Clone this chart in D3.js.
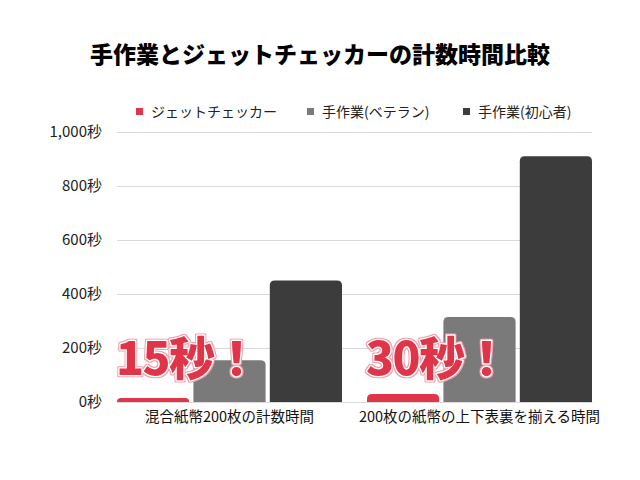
<!DOCTYPE html>
<html>
<head>
<meta charset="utf-8">
<script src="https://cdn.jsdelivr.net/npm/d3@7"></script>
<style>
  html, body { margin: 0; padding: 0; background: #fff; }
  svg { display: block; font-family: "Noto Sans CJK JP", "Noto Sans", sans-serif; }
</style>
</head>
<body>
<svg id="chart" width="640" height="480"></svg>
<script>
const categories = ["混合紙幣200枚の計数時間", "200枚の紙幣の上下表裏を揃える時間"];
const seriesNames = ["ジェットチェッカー", "手作業(ベテラン)", "手作業(初心者)"];
const jetChecker = [15, 30];
const veteran = [155, 315];
const beginner = [450, 910];
const yTicks = [0, 200, 400, 600, 800, 1000];
const annotations = ["15秒！", "30秒！"];
const title = "手作業とジェットチェッカーの計数時間比較";

const colors = ["#e0364a", "#7a7a7a", "#3c3c3c"];
const seriesValues = [jetChecker, veteran, beginner];

const svg = d3.select("#chart");
const margin = { left: 117, right: 48, top: 132, bottom: 78 };
const W = 640, H = 480;

// outline filter for annotations (pink outer edge)
const defs = svg.append("defs");
const f = defs.append("filter").attr("id", "outline").attr("x", "-10%").attr("y", "-20%").attr("width", "120%").attr("height", "140%");
f.append("feMorphology").attr("in", "SourceAlpha").attr("operator", "dilate").attr("radius", 1.3).attr("result", "d");
f.append("feFlood").attr("flood-color", "#ef9fab").attr("result", "c");
f.append("feComposite").attr("in", "c").attr("in2", "d").attr("operator", "in").attr("result", "o");
const fm = f.append("feMerge");
fm.append("feMergeNode").attr("in", "o");
fm.append("feMergeNode").attr("in", "SourceGraphic");

const x0 = d3.scaleBand().domain(categories).range([margin.left, W - margin.right]).paddingInner(0.1).paddingOuter(0);
const x1 = d3.scaleBand().domain(seriesNames).range([0, x0.bandwidth()]).paddingInner(0.055);
const y = d3.scaleLinear().domain([0, 1000]).range([H - margin.bottom, margin.top]);

// title
svg.append("text").attr("x", 320).attr("y", 63).attr("text-anchor", "middle")
  .attr("font-size", 23).attr("font-weight", 900).attr("fill", "#000").text(title);

// legend
const legendX = [136, 307, 463];
seriesNames.forEach((s, i) => {
  const g = svg.append("g").attr("transform", `translate(${legendX[i]},108)`);
  g.append("rect").attr("width", 7).attr("height", 7).attr("fill", colors[i]);
  g.append("text").attr("x", 15).attr("y", 8.5).attr("font-size", 14).attr("fill", "#222").text(s);
});

// grid
const yAxis = d3.axisLeft(y).tickValues(yTicks).tickSize(-(W - margin.left - margin.right))
  .tickFormat(d => d3.format(",")(d) + "秒").tickPadding(15);
const ga = svg.append("g").attr("transform", `translate(${margin.left},0)`).call(yAxis);
ga.select(".domain").remove();
ga.selectAll(".tick line").attr("stroke", "#d9d9d9").attr("stroke-width", 1);
ga.selectAll(".tick text").attr("font-size", 15).attr("fill", "#222")
  .attr("font-family", "'Noto Sans CJK JP', sans-serif");

// bars with rounded top corners
function topRounded(x, yTop, w, h, r) {
  r = Math.min(r, h, w / 2);
  return `M${x},${yTop + h}V${yTop + r}Q${x},${yTop} ${x + r},${yTop}H${x + w - r}Q${x + w},${yTop} ${x + w},${yTop + r}V${yTop + h}Z`;
}
categories.forEach((c, ci) => {
  seriesNames.forEach((s, si) => {
    const v = seriesValues[si][ci];
    const bx = x0(c) + x1(s), bw = x1.bandwidth();
    const yt = y(v), h = y(0) - yt;
    svg.append("path").attr("d", topRounded(bx, yt, bw, h, 5)).attr("fill", colors[si]);
  });
});

// category labels
const xAxis = d3.axisBottom(x0).tickSize(0).tickPadding(10);
const gx = svg.append("g").attr("transform", `translate(0,${y(0)})`).call(xAxis);
gx.select(".domain").attr("stroke", "#d9d9d9");
gx.selectAll(".tick text").attr("font-size", 14.5).attr("fill", "#111")
  .attr("font-family", "'Noto Sans CJK JP', sans-serif");

// annotations
categories.forEach((c, ci) => {
  const ax = x0(c) + x1(seriesNames[0]) - 1;
  svg.append("text").attr("x", ax).attr("y", 375)
    .attr("font-size", 46).attr("font-weight", 900).attr("letter-spacing", -1.5)
    .attr("fill", "#e0364a").attr("stroke", "#fff").attr("stroke-width", 2.5)
    .attr("stroke-linejoin", "round").attr("paint-order", "stroke")
    .attr("filter", "url(#outline)")
    .text(annotations[ci]);
});
</script>
</body>
</html>
